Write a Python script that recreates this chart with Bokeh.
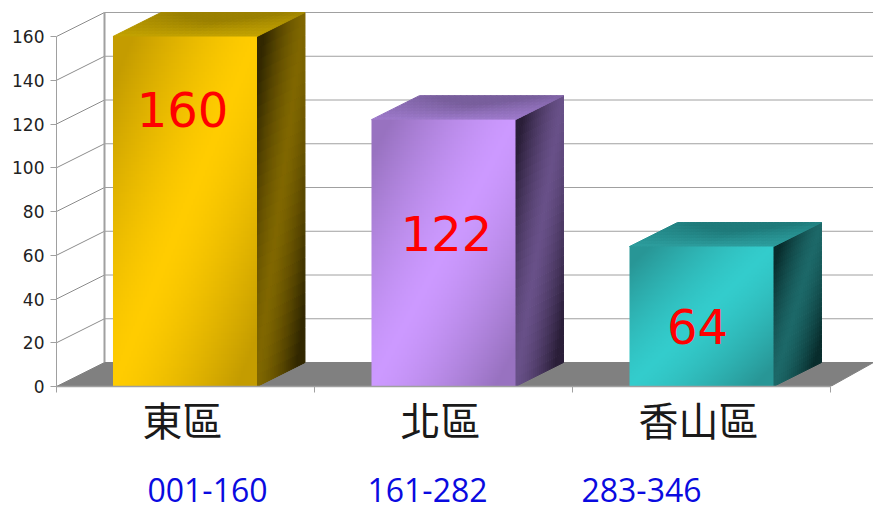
import numpy as np
from bokeh.embed import file_html
from bokeh.resources import INLINE
from bokeh.plotting import figure
from bokeh.models import LinearAxis, FixedTicker, Range1d
from bokeh.core.properties import value

# --- data ---
categories = ["東區", "北區", "香山區"]
counts = [160, 122, 64]
ranges_text = ["001-160", "161-282", "283-346"]
y_ticks = [0, 20, 40, 60, 80, 100, 120, 140, 160]

# --- layout (pixels of the 873x509 page) ---
W, H = 873, 509
LEFT, BASE, TOP = 56, 386, 10
UNIT_X = 258.0
UNIT_Y = 350.0 / 160
DX = 48.0 / UNIT_X
DY = 24.0 / UNIT_Y
BAR_W = 144.0 / UNIT_X
label_offsets_px = [(-3, 109), (3, 233), (-4, 326)]
range_x_px = [207, 427, 641]
CAT_SHIFT_PX = -3
AXIS_GREY = "#a0a0a0"

FACES = [
    dict(light=(255, 204, 0), dark=(196, 156, 0), s_light=(128, 103, 0), s_dark=(50, 40, 0),
         t_light=(196, 163, 0), t_dark=(154, 128, 0)),
    dict(light=(204, 153, 255), dark=(152, 114, 192), s_light=(104, 80, 136), s_dark=(42, 30, 56),
         t_light=(158, 122, 204), t_dark=(120, 94, 156)),
    dict(light=(51, 204, 204), dark=(40, 150, 150), s_light=(28, 104, 104), s_dark=(8, 44, 44),
         t_light=(44, 158, 158), t_dark=(30, 122, 122)),
]

def mix(a, b, t):
    return tuple(int(round(a[i] + (b[i] - a[i]) * t)) for i in range(3))

def hexc(c):
    return "#%02x%02x%02x" % c

p = figure(width=W, height=H, output_backend="svg", toolbar_location=None,
           x_range=Range1d(0, (W - LEFT) / UNIT_X),
           y_range=Range1d(0, (BASE - TOP) / UNIT_Y),
           x_axis_location=None, y_axis_location=None,
           min_border_left=LEFT, min_border_right=0, min_border_top=TOP,
           min_border_bottom=H - BASE, outline_line_color=None)
p.xgrid.visible = False
p.ygrid.visible = False
p.background_fill_color = "white"

x_end = (W - LEFT) / UNIT_X
n_cat = len(categories)

# walls
back_lines_x = [[DX, x_end] for _ in y_ticks[1:]]
back_lines_y = [[v + DY, v + DY] for v in y_ticks[1:]]
p.multi_line(back_lines_x, back_lines_y, line_color=AXIS_GREY, line_width=1)
side_lines_x = [[0, DX] for _ in y_ticks[1:]]
side_lines_y = [[v, v + DY] for v in y_ticks[1:]]
p.multi_line(side_lines_x, side_lines_y, line_color="#8c8c8c", line_width=1)
p.line([DX, DX], [DY, y_ticks[-1] + DY], line_color=AXIS_GREY, line_width=2)

# floor
p.patch([0, DX, x_end, n_cat], [0, DY, DY, 0], fill_color="#808080", line_color="#808080")

# bars
for i, v in enumerate(counts):
    f = FACES[i]
    x0 = i + 0.5 - BAR_W / 2 + (-0.002 if i == 0 else 0)
    x1 = x0 + BAR_W

    # side face
    xs, ys, cols = [], [], []
    cx, cy = 24, 30
    for a in range(cx):
        for b in range(cy):
            u0, u1 = a / cx, (a + 1) / cx
            b0, b1 = b / cy, (b + 1) / cy
            def pt(u, w):
                return x1 + DX * u, v * w + DY * u
            c = [pt(u0, b0), pt(u1, b0), pt(u1, b1), pt(u0, b1)]
            xs.append([q[0] for q in c]); ys.append([q[1] for q in c])
            uc, vc = (u0 + u1) / 2, 1 - (b0 + b1) / 2
            cols.append(hexc(mix(f["s_light"], f["s_dark"], min(1, abs(uc + vc - 1) * 1.2) ** 1.4)))
    p.patches(xs, ys, fill_color=cols, line_color=cols, line_width=1)

    # top face
    xs, ys, cols = [], [], []
    cx, cy = 24, 8
    for a in range(cx):
        for b in range(cy):
            u0, u1 = a / cx, (a + 1) / cx
            b0, b1 = b / cy, (b + 1) / cy
            def pt(u, w):
                return x0 + BAR_W * u + DX * w, v + DY * w
            c = [pt(u0, b0), pt(u1, b0), pt(u1, b1), pt(u0, b1)]
            xs.append([q[0] for q in c]); ys.append([q[1] for q in c])
            uc, wc = (u0 + u1) / 2, (b0 + b1) / 2
            t = min(1, wc * (1 - abs(uc - 0.5)) * 1.6)
            cols.append(hexc(mix(f["t_light"], f["t_dark"], t)))
    p.patches(xs, ys, fill_color=cols, line_color=cols, line_width=1)

    # front face: diagonal gradient image, over the strokes of the other faces
    nx, ny = 72, 120
    uu, vv = np.meshgrid(np.linspace(0, 1, nx), np.linspace(1, 0, ny))
    tt = np.clip(np.abs(uu + vv - 1) * 1.15, 0, 1) ** 1.4
    img = np.zeros((ny, nx), dtype=np.uint32)
    view = img.view(dtype=np.uint8).reshape((ny, nx, 4))
    for ch in range(3):
        view[:, :, ch] = np.round(f["light"][ch] + (f["dark"][ch] - f["light"][ch]) * tt).astype(np.uint8)
    view[:, :, 3] = 255
    p.image_rgba(image=[img], x=[x0], y=[0], dw=[BAR_W], dh=[v])

# value labels on the bars
lab_x = [i + 0.5 + label_offsets_px[i][0] / UNIT_X for i in range(n_cat)]
lab_y = [(BASE - label_offsets_px[i][1]) / UNIT_Y for i in range(n_cat)]
p.text(lab_x, lab_y, text=[str(c) for c in counts], text_color="#ff0000",
       text_font=value("DejaVu Sans"), text_font_size="48px",
       text_align="center", text_baseline="middle")

# axes
ya = LinearAxis(ticker=FixedTicker(ticks=y_ticks), bounds=(0, y_ticks[-1]))
ya.axis_line_color = AXIS_GREY
ya.major_tick_line_color = AXIS_GREY
ya.major_tick_in = 0
ya.major_tick_out = 6
ya.minor_tick_line_color = None
ya.major_label_standoff = 6
ya.major_label_text_font = "DejaVu Sans"
ya.major_label_text_font_size = "17px"
ya.major_label_text_color = "#222222"
p.add_layout(ya, "left")

xa = LinearAxis(ticker=FixedTicker(ticks=list(range(n_cat + 1))), bounds=(0, n_cat),
                major_label_text_color=None, major_label_text_font_size="1px",
                major_label_standoff=0)
xa.axis_line_color = AXIS_GREY
xa.axis_line_width = 1.5
xa.major_tick_line_color = AXIS_GREY
xa.major_tick_in = 0
xa.major_tick_out = 6
xa.minor_tick_line_color = None
p.add_layout(xa, "below")

# category names: an axis of their own
cat_pos = [i + 0.5 + CAT_SHIFT_PX / UNIT_X for i in range(n_cat)]
ca = LinearAxis(ticker=FixedTicker(ticks=cat_pos),
                major_label_overrides=dict(zip(cat_pos, categories)))
ca.axis_line_color = None
ca.major_tick_line_color = None
ca.minor_tick_line_color = None
ca.major_tick_in = 0
ca.major_tick_out = 0
ca.major_label_standoff = -3
ca.major_label_text_font = "Noto Sans CJK TC"
ca.major_label_text_font_size = "40px"
ca.major_label_text_color = "#1a1a1a"
p.add_layout(ca, "below")

# range notes: a further axis
rng_pos = [(xp - LEFT) / UNIT_X for xp in range_x_px]
ra = LinearAxis(ticker=FixedTicker(ticks=rng_pos),
                major_label_overrides=dict(zip(rng_pos, ranges_text)))
ra.axis_line_color = None
ra.major_tick_line_color = None
ra.minor_tick_line_color = None
ra.major_tick_in = 0
ra.major_tick_out = 0
ra.major_label_standoff = 27
ra.major_label_text_font = "Open Sans"
ra.major_label_text_font_size = "32px"
ra.major_label_text_color = "#0a0ae0"
p.add_layout(ra, "below")

open("out.html", "w").write(file_html(p, INLINE))
